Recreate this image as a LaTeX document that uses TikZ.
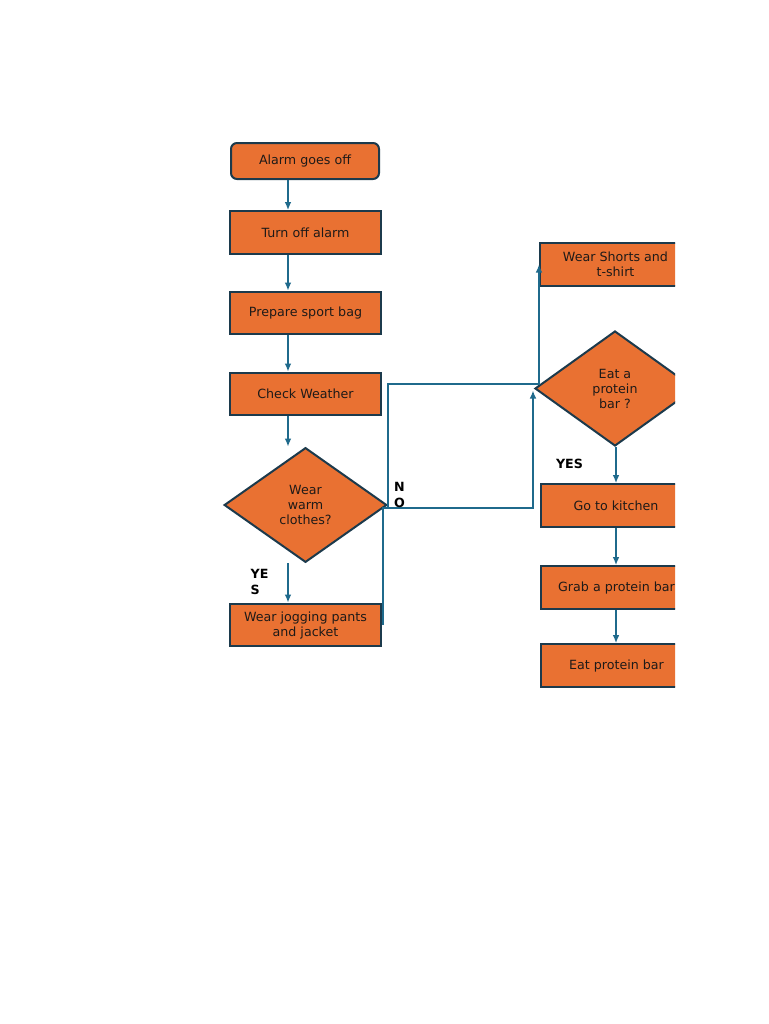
\documentclass[tikz,border=0pt]{standalone}
\usepackage{fontspec}
\setmainfont{DejaVu Sans}
\usetikzlibrary{shapes.geometric,arrows.meta}
\definecolor{boxfill}{HTML}{E97132}
\definecolor{boxedge}{HTML}{1C3A4C}
\definecolor{linkblue}{HTML}{1F6A8C}
\definecolor{inktext}{HTML}{1E1A18}
\begin{document}
\begin{tikzpicture}[x=0.75pt, y=-0.75pt,
    every node/.style={font=\fontsize{9.5}{11.25}\selectfont, text=inktext},
    stepbox/.style={draw=boxedge, line width=1.5pt, fill=boxfill, minimum width=113pt, minimum height=32pt, align=center, inner sep=1pt},
    startbox/.style={stepbox, rounded corners=4.5pt, minimum width=111pt, minimum height=27pt},
    choice/.style={draw=boxedge, line width=1.5pt, fill=boxfill, shape=diamond, inner sep=0pt, align=center, minimum width=122pt, minimum height=86pt},
    link/.style={draw=linkblue, line width=1.3pt},
    arr/.style={link, -{Latex[length=6pt,width=5pt]}},
    lbl/.style={font=\fontsize{9.5}{12}\bfseries, text=black}]
\path[fill=white] (0,0) rectangle (768,1024);
\clip (0,0) rectangle (675,1024);

\node[startbox] (alarm)   at (305,161)   {Alarm goes off};
\node[stepbox]  (turnoff) at (305.5,232.5) {Turn off alarm};
\node[stepbox]  (bag)     at (305.5,313)   {Prepare sport bag};
\node[stepbox]  (weather) at (305.5,394)   {Check Weather};
\node[choice]   (warm)    at (305.5,505)   {Wear\\warm\\clothes?};
\node[stepbox]  (jog)     at (305.5,625)   {Wear jogging pants\\and jacket};

\node[stepbox]  (shorts)  at (615.5,264.5) {Wear Shorts and\\t-shirt};
\node[choice, minimum width=160pt*0.75, minimum height=115pt*0.75] (eatq) at (615,388.5) {Eat a\\protein\\bar ?};
\node[stepbox]  (kitchen) at (616,505.5)   {Go to kitchen};
\node[stepbox]  (grab)    at (616.5,587.5) {Grab a protein bar};
\node[stepbox]  (eatbar)  at (616.5,665.5) {Eat protein bar};

\coordinate (ax) at (288,0);
\draw[arr] (alarm.south -| ax) -- (turnoff.north -| ax);
\draw[arr] (turnoff.south -| ax) -- (bag.north -| ax);
\draw[arr] (bag.south -| ax) -- (weather.north -| ax);
\draw[arr] (weather.south -| ax) -- (ax |- warm.north);
\draw[arr] (ax |- warm.south) -- (jog.north -| ax);

\coordinate (noturn) at (383,508);
\coordinate (noup) at (533,508);
\draw[arr] (jog.east -| noturn) -- (noturn) -- (noup) -- ([yshift=-1.5pt]noup |- eatq.west);

\coordinate (skturn) at (388,384);
\coordinate (skup) at (539,384);
\draw[arr] (388,508) -- (skturn) -- (skup) -- (skup |- shorts.west);

\coordinate (rx) at (616,0);
\draw[arr] (eatq.south -| rx) -- (kitchen.north -| rx);
\draw[arr] (kitchen.south -| rx) -- (grab.north -| rx);
\draw[arr] (grab.south -| rx) -- (eatbar.north -| rx);

\node[lbl, align=center] (nolbl) at (399.5,495) {N\\O};
\node[lbl, align=left, anchor=west] (yeslbl) at (246,581.5) {YE\\S};
\node[lbl] (yesright) at (569.5,464) {YES};
\end{tikzpicture}
\end{document}
